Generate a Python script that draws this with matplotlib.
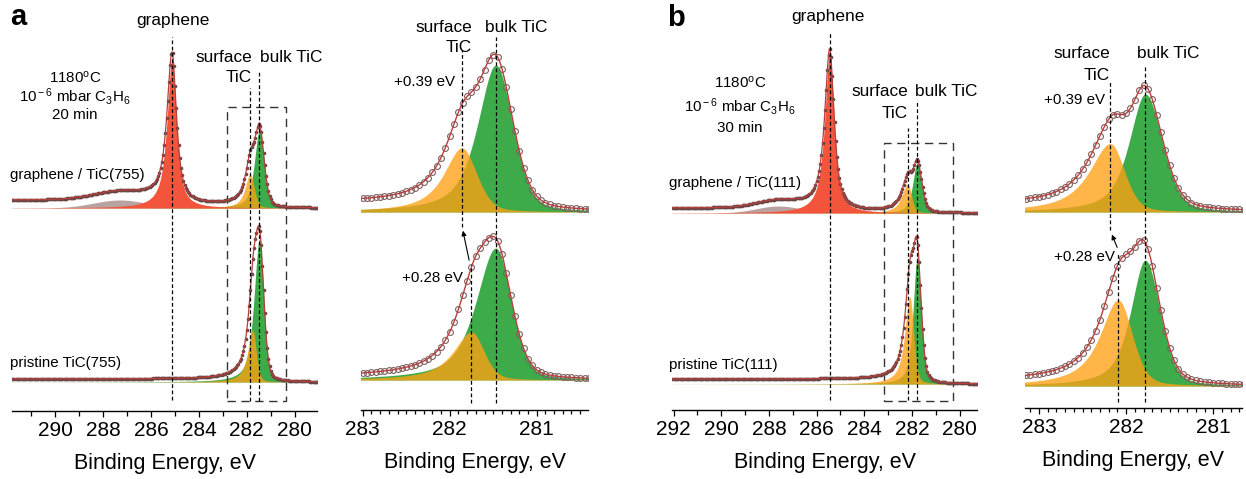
import numpy as np
import matplotlib as mpl
mpl.use('Agg')
import matplotlib.pyplot as plt
from matplotlib.patches import Rectangle
from matplotlib.ticker import MultipleLocator

plt.rcParams['font.family'] = ['Liberation Sans', 'DejaVu Sans']
plt.rcParams['mathtext.fontset'] = 'custom'
plt.rcParams['mathtext.rm'] = 'Liberation Sans'
plt.rcParams['mathtext.it'] = 'Liberation Sans:italic'

# fitted C 1s components (binding energy in eV, heights in arb. units)
# order of components: shake-up, graphene, surface TiC, bulk TiC
a_top_kinds = ['shake', 'graphene', 'surface', 'bulk']
a_top_pos = [287.3, 285.12, 281.86, 281.47]
a_top_height = [8, 149, 34, 78]
a_top_hw_hi = [1.3, 0.25, 0.25, 0.25]
a_top_hw_lo = [1.3, 0.22, 0.20, 0.23]
a_top_step = 8

a_bot_kinds = ['surface', 'bulk']
a_bot_pos = [281.75, 281.47]
a_bot_height = [52, 143]
a_bot_hw_hi = [0.25, 0.27]
a_bot_hw_lo = [0.17, 0.21]
a_bot_step = 3

b_top_kinds = ['shake', 'graphene', 'surface', 'bulk']
b_top_pos = [287.6, 285.45, 282.18, 281.78]
b_top_height = [7, 160, 29, 50]
b_top_hw_hi = [1.1, 0.25, 0.29, 0.22]
b_top_hw_lo = [1.1, 0.22, 0.19, 0.23]
b_top_step = 5

b_bot_kinds = ['surface', 'bulk']
b_bot_pos = [282.09, 281.78]
b_bot_height = [87, 127]
b_bot_hw_hi = [0.25, 0.20]
b_bot_hw_lo = [0.19, 0.20]
b_bot_step = 5

# Lorentzian fraction of each line shape (high-BE side, low-BE side)
LOR_HI = {'shake': 0.0, 'graphene': 0.9, 'surface': 0.9, 'bulk': 0.7}
LOR_LO = {'shake': 0.0, 'graphene': 0.8, 'surface': 0.3, 'bulk': 0.3}

shift_labels = ['+0.39 eV', '+0.28 eV']

E = np.arange(279.0, 292.3, 0.01)


def lineshape(e, c, h, w_hi, w_lo, m_hi, m_lo):
    d = e - c
    w = np.where(d > 0, w_hi, w_lo)
    m = np.where(d > 0, m_hi, m_lo)
    u2 = (d / w) ** 2
    return h * (m / (1 + u2) + (1 - m) * np.exp(-np.log(2) * u2))


def build(kinds, pos, height, hw_hi, hw_lo, step):
    comps = {}
    for k, c, h, wh, wl in zip(kinds, pos, height, hw_hi, hw_lo):
        comps[k] = lineshape(E, c, h, wh, wl, LOR_HI[k], LOR_LO[k])
    core = sum(comps[k] for k in comps if k != 'shake')
    cs = np.cumsum(core)
    bg = step * cs / cs[-1]   # shirley-like step
    total = bg + sum(comps.values())
    return comps, total


spectra = {
    'a_top': build(a_top_kinds, a_top_pos, a_top_height, a_top_hw_hi, a_top_hw_lo, a_top_step),
    'a_bot': build(a_bot_kinds, a_bot_pos, a_bot_height, a_bot_hw_hi, a_bot_hw_lo, a_bot_step),
    'b_top': build(b_top_kinds, b_top_pos, b_top_height, b_top_hw_hi, b_top_hw_lo, b_top_step),
    'b_bot': build(b_bot_kinds, b_bot_pos, b_bot_height, b_bot_hw_hi, b_bot_hw_lo, b_bot_step),
}

C_RED = '#f2553c'
C_GREY = '#b9a3a1'
C_GREEN = '#3dab4a'
C_ORANGE = '#ffa014'
C_FIT = '#b5403e'
C_DATA = '#6a4644'

W, H = 1246, 479
fig = plt.figure(figsize=(W / 100, H / 100), dpi=100)


def px_axes(x0, x1, spine_y):
    ax = fig.add_axes([x0 / W, 1 - spine_y / H, (x1 - x0) / W, spine_y / H])
    ax.set_ylim(0, spine_y)
    for s in ['left', 'top', 'right']:
        ax.spines[s].set_visible(False)
    ax.spines['bottom'].set_linewidth(1.0)
    ax.set_yticks([])
    ax.patch.set_alpha(0)
    ax.tick_params(axis='x', labelsize=15, direction='out', length=4.5, width=0.9, pad=3)
    ax.tick_params(axis='x', which='minor', direction='out', length=3.5, width=0.9)
    ax.set_xlabel('Binding Energy, eV', fontsize=15.5, labelpad=9)
    return ax


def ftext(x, y, s, **kw):
    kw.setdefault('va', 'center')
    fig.text(x / W, 1 - y / H, s, **kw)


def draw_spectrum(ax, key, base, scale, left=True):
    comps, total = spectra[key]
    if left and 'shake' in comps:
        ax.fill_between(E, base, base + scale * comps['shake'], color=C_GREY, lw=0)
    ax.fill_between(E, base, base + scale * comps['bulk'], color=C_GREEN, lw=0)
    ax.fill_between(E, base, base + scale * comps['surface'], color=C_ORANGE, alpha=0.78, lw=0)
    if left and 'graphene' in comps:
        ax.fill_between(E, base, base + scale * comps['graphene'], color=C_RED, lw=0)
    y = base + scale * total
    if left:
        ax.plot(E[::5], y[::5], 'o', ms=2.6, color=C_DATA, mew=0)
        ax.plot(E, y, color=C_FIT, lw=0.9)
    else:
        ax.plot(E[::5], y[::5], 'o', ms=4.2, mfc='none', mec='#806060', mew=0.8)
        ax.plot(E, y, color=C_FIT, lw=1.0)


def vdash(ax, x, y0, y1, dash=(3, 2)):
    ax.plot([x, x], [y0, y1], color='k', lw=0.9, ls=(0, dash))


# ---------- panel a, overview ----------
ax = px_axes(12, 317, 411)
ax.set_xlim(291.8, 279.07)
ax.xaxis.set_major_locator(MultipleLocator(2))
ax.xaxis.set_minor_locator(MultipleLocator(1))
draw_spectrum(ax, 'a_top', 203, 1.0)
draw_spectrum(ax, 'a_bot', 29, 1.0)
vdash(ax, a_top_pos[1], 11, 374)
vdash(ax, a_top_pos[2], 10, 323)
vdash(ax, a_top_pos[3], 10, 339)
ax.add_patch(Rectangle((282.82, 10), 280.37 - 282.82, 294, fill=False, ec='#333333',
                       lw=1.0, ls=(0, (6, 4))))

# ---------- panel a, zoom ----------
ax = px_axes(361, 588, 410)
ax.set_xlim(283.02, 280.41)
ax.xaxis.set_major_locator(MultipleLocator(1))
ax.xaxis.set_minor_locator(MultipleLocator(0.1))
ax.tick_params(axis='x', which='minor', length=3)
draw_spectrum(ax, 'a_top', 198, 1.885, left=False)
draw_spectrum(ax, 'a_bot', 30, 0.923, left=False)
vdash(ax, a_top_pos[3], 7, 373)
vdash(ax, a_top_pos[2], 183, 360)
vdash(ax, a_bot_pos[0], 7, 145)
ax.annotate('', xy=(281.855, 182), xytext=(281.77, 147),
            arrowprops=dict(arrowstyle='-|>', lw=0.8, color='k', mutation_scale=7))

# ---------- panel b, overview ----------
ax = px_axes(672, 977, 410)
ax.set_xlim(292.07, 279.27)
ax.xaxis.set_major_locator(MultipleLocator(2))
ax.xaxis.set_minor_locator(MultipleLocator(1))
draw_spectrum(ax, 'b_top', 197, 1.0)
draw_spectrum(ax, 'b_bot', 26, 1.0)
vdash(ax, b_top_pos[1], 10, 378)
vdash(ax, b_top_pos[2], 10, 282)
vdash(ax, b_top_pos[3], 10, 308)
ax.add_patch(Rectangle((283.16, 9.5), 280.28 - 283.16, 258, fill=False, ec='#333333',
                       lw=1.0, ls=(0, (6, 4))))

# ---------- panel b, zoom ----------
ax = px_axes(1025, 1242, 408)
ax.set_xlim(283.16, 280.67)
ax.xaxis.set_major_locator(MultipleLocator(1))
ax.xaxis.set_minor_locator(MultipleLocator(0.1))
ax.tick_params(axis='x', which='minor', length=3)
draw_spectrum(ax, 'b_top', 196, 2.36, left=False)
draw_spectrum(ax, 'b_bot', 22, 0.99, left=False)
vdash(ax, b_top_pos[3], 6, 343)
vdash(ax, b_top_pos[2], 178, 328)
vdash(ax, b_bot_pos[0], 6, 156)
ax.annotate('', xy=(282.175, 176), xytext=(282.09, 158),
            arrowprops=dict(arrowstyle='-|>', lw=0.8, color='k', mutation_scale=7))

# ---------- text ----------
LBL = 12.4
SML = 10.9
ftext(10, 17, 'a', fontsize=21, fontweight='bold')
ftext(173, 20, 'graphene', fontsize=LBL, ha='center')
ftext(252, 57, 'surface', fontsize=LBL, ha='right')
ftext(252, 78, 'TiC', fontsize=LBL, ha='right')
ftext(260, 57, 'bulk TiC', fontsize=LBL, ha='left')
ftext(75, 78, '1180$^{\\rm o}$C', fontsize=SML, ha='center')
ftext(75, 97, '10$^{\\rm -6}$ mbar C$_{\\rm 3}$H$_{\\rm 6}$', fontsize=SML, ha='center')
ftext(75, 115, '20 min', fontsize=SML, ha='center')
ftext(10, 175, 'graphene / TiC(755)', fontsize=SML, ha='left')
ftext(10, 363, 'pristine TiC(755)', fontsize=SML, ha='left')

ftext(472, 27, 'surface', fontsize=LBL, ha='right')
ftext(472, 48, 'TiC', fontsize=LBL, ha='right')
ftext(485, 27, 'bulk TiC', fontsize=LBL, ha='left')
ftext(455, 82, shift_labels[0], fontsize=SML, ha='right')
ftext(463, 278, shift_labels[1], fontsize=SML, ha='right')

ftext(667, 18, 'b', fontsize=21, fontweight='bold')
ftext(828, 17, 'graphene', fontsize=LBL, ha='center')
ftext(908, 92, 'surface', fontsize=LBL, ha='right')
ftext(908, 113, 'TiC', fontsize=LBL, ha='right')
ftext(915, 92, 'bulk TiC', fontsize=LBL, ha='left')
ftext(740, 83, '1180$^{\\rm o}$C', fontsize=SML, ha='center')
ftext(740, 106, '10$^{\\rm -6}$ mbar C$_{\\rm 3}$H$_{\\rm 6}$', fontsize=SML, ha='center')
ftext(740, 128, '30 min', fontsize=SML, ha='center')
ftext(669, 183, 'graphene / TiC(111)', fontsize=SML, ha='left')
ftext(669, 365, 'pristine TiC(111)', fontsize=SML, ha='left')

ftext(1110, 54, 'surface', fontsize=LBL, ha='right')
ftext(1110, 75, 'TiC', fontsize=LBL, ha='right')
ftext(1137, 54, 'bulk TiC', fontsize=LBL, ha='left')
ftext(1105, 100, shift_labels[0], fontsize=SML, ha='right')
ftext(1115, 257, shift_labels[1], fontsize=SML, ha='right')

fig.savefig('out.png', dpi=100)
